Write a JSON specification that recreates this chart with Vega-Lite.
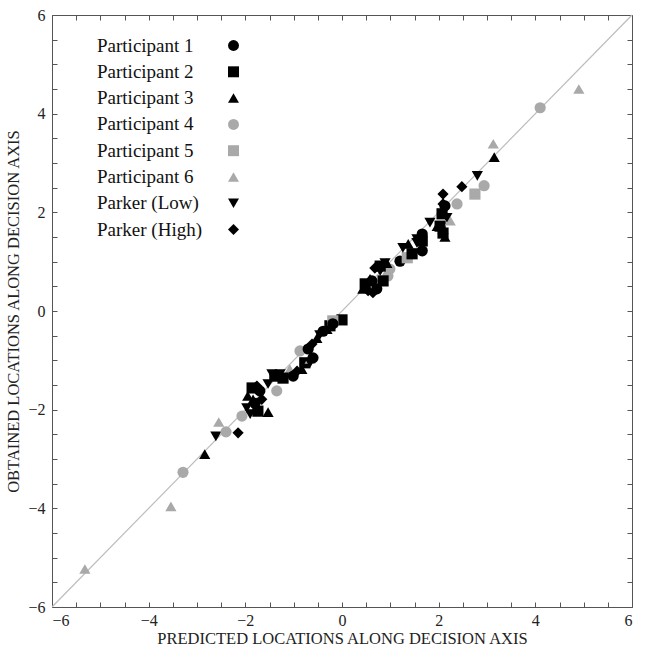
{
  "$schema": "https://vega.github.io/schema/vega-lite/v6.json",
  "width": 580,
  "height": 592,
  "autosize": {"type": "none"},
  "padding": {"left": 52, "top": 15, "right": 14, "bottom": 44},
  "background": "white",
  "config": {
    "view": {"stroke": "#555", "strokeWidth": 1},
    "font": "Liberation Serif",
    "axis": {
      "grid": false, "domain": false,
      "labelFont": "Liberation Serif", "titleFont": "Liberation Serif",
      "labelFontSize": 16, "titleFontSize": 16.5, "titleFontWeight": "normal",
      "labelColor": "#222", "titleColor": "#222",
      "tickColor": "#555", "tickSize": -5, "tickWidth": 1, "format": "~g"
    },
    "legend": {
      "orient": "none", "legendX": 172, "legendY": 21,
      "labelFont": "Liberation Serif", "labelFontSize": 19, "labelColor": "#111",
      "labelOffset": -146, "labelAlign": "left", "labelLimit": 300,
      "rowPadding": 6.3, "symbolStrokeWidth": 0, "symbolSize": 120, "symbolOpacity": 1
    }
  },
  "layer": [
    {
      "data": {"values": [{"x": -6, "y": -6}, {"x": 6, "y": 6}]},
      "mark": {"type": "line", "color": "#bdbdbd", "strokeWidth": 1.2},
      "encoding": {
        "x": {"field": "x", "type": "quantitative",
          "scale": {"domain": [-6, 6], "nice": false, "zero": false},
          "axis": {"orient": "top", "values": [-6,-5.5,-5,-4.5,-4,-3.5,-3,-2.5,-2,-1.5,-1,-0.5,0,0.5,1,1.5,2,2.5,3,3.5,4,4.5,5,5.5,6], "labels": false, "title": null}},
        "y": {"field": "y", "type": "quantitative",
          "scale": {"domain": [-6, 6], "nice": false, "zero": false},
          "axis": {"orient": "right", "values": [-6,-5.5,-5,-4.5,-4,-3.5,-3,-2.5,-2,-1.5,-1,-0.5,0,0.5,1,1.5,2,2.5,3,3.5,4,4.5,5,5.5,6], "labels": false, "title": null}}
      }
    },
    {
      "data": {"values": [
        {"s": "Participant 6", "x": -5.32, "y": -5.23},
        {"s": "Participant 6", "x": -3.54, "y": -3.96},
        {"s": "Participant 4", "x": -3.29, "y": -3.27},
        {"s": "Participant 3", "x": -2.84, "y": -2.90},
        {"s": "Parker (Low)", "x": -2.61, "y": -2.54},
        {"s": "Participant 4", "x": -2.40, "y": -2.45},
        {"s": "Participant 6", "x": -2.55, "y": -2.25},
        {"s": "Parker (High)", "x": -2.15, "y": -2.47},
        {"s": "Participant 4", "x": -2.07, "y": -2.13},
        {"s": "Participant 3", "x": -1.53, "y": -2.05},
        {"s": "Participant 3", "x": -1.95, "y": -1.72},
        {"s": "Participant 2", "x": -1.86, "y": -1.56},
        {"s": "Participant 1", "x": -1.80, "y": -1.87},
        {"s": "Parker (Low)", "x": -1.97, "y": -1.97},
        {"s": "Participant 2", "x": -1.74, "y": -2.03},
        {"s": "Parker (Low)", "x": -1.90, "y": -2.09},
        {"s": "Participant 1", "x": -1.70, "y": -1.62},
        {"s": "Parker (High)", "x": -1.76, "y": -1.52},
        {"s": "Participant 3", "x": -1.84, "y": -1.79},
        {"s": "Parker (High)", "x": -1.66, "y": -1.79},
        {"s": "Participant 4", "x": -1.35, "y": -1.62},
        {"s": "Parker (Low)", "x": -1.53, "y": -1.48},
        {"s": "Participant 2", "x": -1.39, "y": -1.32},
        {"s": "Parker (Low)", "x": -1.28, "y": -1.28},
        {"s": "Parker (Low)", "x": -1.45, "y": -1.28},
        {"s": "Participant 6", "x": -1.08, "y": -1.18},
        {"s": "Participant 2", "x": -1.22, "y": -1.36},
        {"s": "Participant 1", "x": -1.01, "y": -1.32},
        {"s": "Participant 3", "x": -0.83, "y": -1.18},
        {"s": "Participant 2", "x": -0.77, "y": -1.05},
        {"s": "Participant 6", "x": -0.66, "y": -0.97},
        {"s": "Participant 1", "x": -0.60, "y": -0.95},
        {"s": "Participant 4", "x": -0.87, "y": -0.81},
        {"s": "Parker (High)", "x": -0.62, "y": -0.67},
        {"s": "Participant 3", "x": -0.52, "y": -0.55},
        {"s": "Participant 1", "x": -0.39, "y": -0.41},
        {"s": "Participant 2", "x": -0.25, "y": -0.30},
        {"s": "Parker (Low)", "x": -0.10, "y": -0.24},
        {"s": "Participant 2", "x": 0.00, "y": -0.18},
        {"s": "Participant 5", "x": -0.19, "y": -0.20},
        {"s": "Parker (Low)", "x": -0.46, "y": -0.49},
        {"s": "Participant 3", "x": -0.31, "y": -0.37},
        {"s": "Participant 1", "x": -0.70, "y": -0.77},
        {"s": "Participant 1", "x": -0.19, "y": -0.26},
        {"s": "Parker (Low)", "x": -0.66, "y": -1.05},
        {"s": "Parker (High)", "x": -0.93, "y": -1.22},
        {"s": "Participant 2", "x": 0.48, "y": 0.55},
        {"s": "Participant 3", "x": 0.58, "y": 0.65},
        {"s": "Participant 1", "x": 0.72, "y": 0.45},
        {"s": "Parker (Low)", "x": 0.79, "y": 0.81},
        {"s": "Parker (Low)", "x": 0.89, "y": 0.97},
        {"s": "Participant 4", "x": 0.95, "y": 0.71},
        {"s": "Parker (High)", "x": 0.68, "y": 0.87},
        {"s": "Participant 2", "x": 0.85, "y": 0.61},
        {"s": "Parker (High)", "x": 0.54, "y": 0.41},
        {"s": "Participant 1", "x": 0.62, "y": 0.61},
        {"s": "Participant 3", "x": 0.43, "y": 0.45},
        {"s": "Parker (High)", "x": 0.64, "y": 0.37},
        {"s": "Participant 1", "x": 1.20, "y": 1.01},
        {"s": "Participant 5", "x": 1.35, "y": 1.08},
        {"s": "Parker (Low)", "x": 1.26, "y": 1.28},
        {"s": "Participant 3", "x": 1.37, "y": 1.36},
        {"s": "Parker (Low)", "x": 1.55, "y": 1.46},
        {"s": "Participant 1", "x": 1.66, "y": 1.22},
        {"s": "Participant 2", "x": 1.66, "y": 1.42},
        {"s": "Participant 2", "x": 1.45, "y": 1.16},
        {"s": "Participant 4", "x": 0.99, "y": 0.85},
        {"s": "Participant 3", "x": 0.93, "y": 0.97},
        {"s": "Participant 2", "x": 0.79, "y": 0.91},
        {"s": "Participant 1", "x": 1.66, "y": 1.56},
        {"s": "Parker (Low)", "x": 1.55, "y": 1.38},
        {"s": "Parker (Low)", "x": 1.82, "y": 1.79},
        {"s": "Participant 3", "x": 1.97, "y": 1.72},
        {"s": "Participant 3", "x": 2.09, "y": 1.66},
        {"s": "Participant 3", "x": 2.13, "y": 1.50},
        {"s": "Participant 2", "x": 2.03, "y": 1.72},
        {"s": "Participant 2", "x": 2.09, "y": 1.58},
        {"s": "Participant 6", "x": 2.24, "y": 1.83},
        {"s": "Participant 1", "x": 2.13, "y": 2.13},
        {"s": "Participant 2", "x": 2.07, "y": 1.97},
        {"s": "Parker (Low)", "x": 2.17, "y": 1.89},
        {"s": "Parker (High)", "x": 2.09, "y": 2.17},
        {"s": "Parker (High)", "x": 2.09, "y": 2.37},
        {"s": "Participant 4", "x": 2.38, "y": 2.17},
        {"s": "Parker (High)", "x": 2.48, "y": 2.52},
        {"s": "Participant 5", "x": 2.75, "y": 2.37},
        {"s": "Participant 4", "x": 2.94, "y": 2.54},
        {"s": "Parker (Low)", "x": 2.80, "y": 2.74},
        {"s": "Participant 3", "x": 3.15, "y": 3.12},
        {"s": "Participant 6", "x": 3.13, "y": 3.39},
        {"s": "Participant 4", "x": 4.10, "y": 4.12},
        {"s": "Participant 6", "x": 4.90, "y": 4.50}
      ]},
      "mark": {"type": "point", "filled": true, "size": 125, "opacity": 1, "strokeWidth": 0},
      "encoding": {
        "x": {"field": "x", "type": "quantitative",
          "scale": {"domain": [-6, 6], "nice": false, "zero": false},
          "axis": {"orient": "bottom", "values": [-6,-5.5,-5,-4.5,-4,-3.5,-3,-2.5,-2,-1.5,-1,-0.5,0,0.5,1,1.5,2,2.5,3,3.5,4,4.5,5,5.5,6],
            "labelExpr": "datum.value % 2 == 0 ? datum.label : ''", "labelPadding": 10,
            "title": "PREDICTED LOCATIONS ALONG DECISION AXIS", "titlePadding": 2}},
        "y": {"field": "y", "type": "quantitative",
          "scale": {"domain": [-6, 6], "nice": false, "zero": false},
          "axis": {"orient": "left", "values": [-6,-5.5,-5,-4.5,-4,-3.5,-3,-2.5,-2,-1.5,-1,-0.5,0,0.5,1,1.5,2,2.5,3,3.5,4,4.5,5,5.5,6],
            "labelExpr": "datum.value % 2 == 0 ? datum.label : ''", "labelPadding": 12,
            "title": "OBTAINED LOCATIONS ALONG DECISION AXIS", "titlePadding": 6}},
        "color": {"field": "s", "type": "nominal",
          "scale": {"domain": ["Participant 1", "Participant 2", "Participant 3", "Participant 4", "Participant 5", "Participant 6", "Parker (Low)", "Parker (High)"],
            "range": ["#000000", "#000000", "#000000", "#a9a9a9", "#a9a9a9", "#a9a9a9", "#000000", "#000000"]},
          "legend": {"title": null}},
        "shape": {"field": "s", "type": "nominal",
          "scale": {"domain": ["Participant 1", "Participant 2", "Participant 3", "Participant 4", "Participant 5", "Participant 6", "Parker (Low)", "Parker (High)"],
            "range": ["circle", "square", "triangle-up", "circle", "square", "triangle-up", "triangle-down", "diamond"]},
          "legend": {"title": null}}
      }
    }
  ],
  "resolve": {"axis": {"x": "independent", "y": "independent"}}
}
